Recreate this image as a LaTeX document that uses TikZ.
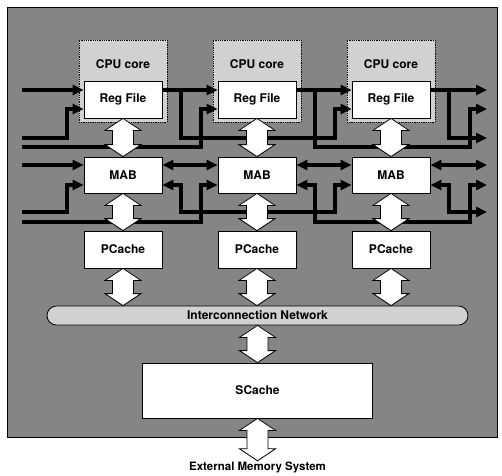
\documentclass[tikz,border=0pt]{standalone}
\usepackage{fontspec}
\setmainfont{TeX Gyre Heros}
\usetikzlibrary{arrows.meta, calc}

% white double-headed block arrow, drawn downwards from #1 to #2
\newcommand{\blockarrow}[2]{%
  \draw[blockarr] let \p1=(#1), \p2=(#2) in
    (\p1) -- ++(-18pt,-12pt) -- ++(7.5pt,0pt) -- (\x1-10.5pt,\y2+12pt)
    -- ++(-7.5pt,0pt) -- (\x1,\y2) -- ++(18pt,12pt) -- ++(-7.5pt,0pt)
    -- (\x1+10.5pt,\y1-12pt) -- ++(7.5pt,0pt) -- cycle;}

\begin{document}
\begin{tikzpicture}[x=1pt,y=-1pt,>={Triangle[length=11pt,width=10pt]}]
	\tikzstyle{lbl}=[font=\fontsize{12}{14}\selectfont\bfseries]
	\tikzstyle{box}=[lbl,draw=black,line width=0.8pt,fill=white,minimum width=78pt,minimum height=37pt]
	\tikzstyle{core}=[draw=black,densely dotted,line width=0.8pt,fill=black!18,minimum width=88pt,minimum height=82pt]
	\tikzstyle{bus}=[line width=4pt]
	\tikzstyle{blockarr}=[draw=black,line width=0.8pt,fill=white]

	\useasboundingbox (0,0) rectangle (502,475);
	\draw[line width=0.8pt,fill=black!48] (7,7) rectangle (497,437);

	% processor columns
	\node[core](core1) at (123,81) {};
	\node[core](core2) at (257,81) {};
	\node[core](core3) at (391,81) {};
	\node[lbl](cpu1) at (123,64) {CPU core};
	\node[lbl](cpu2) at (257,64) {CPU core};
	\node[lbl](cpu3) at (391,64) {CPU core};
	\node[box](rf1) at (123,99.5) {Reg File};
	\node[box](rf2) at (257,99.5) {Reg File};
	\node[box](rf3) at (391,99.5) {Reg File};
	\node[box,minimum height=36pt](mab1) at (123,175) {MAB};
	\node[box,minimum height=36pt](mab2) at (257,175) {MAB};
	\node[box,minimum height=36pt](mab3) at (391,175) {MAB};
	\node[box](pc1) at (123,249.5) {PCache};
	\node[box](pc2) at (257,249.5) {PCache};
	\node[box](pc3) at (391,249.5) {PCache};

	\node[lbl,draw=black,line width=0.8pt,fill=black!18,rounded corners=9.5pt,
		minimum width=421pt,minimum height=19pt,inner sep=0pt](net) at (257.5,315.5) {Interconnection Network};
	\node[box,minimum width=230pt,minimum height=55pt](sc) at (257.5,390.5) {SCache};
	\node[lbl,font=\fontsize{11.5}{13}\selectfont\bfseries,inner sep=1pt](ext) at (257.5,467.5) {External Memory System};

	% bus rows and levels
	\coordinate (r1) at (0,90);
	\coordinate (r2) at (0,109);
	\coordinate (la) at (0,138);
	\coordinate (lb) at (0,147);
	\coordinate (m1) at (0,165);
	\coordinate (m2) at (0,185);
	\coordinate (ma) at (0,212);
	\coordinate (mb) at (0,222);
	\coordinate (rin1) at (22,90);
	\coordinate (rin2) at (22,138);
	\coordinate (rin3) at (22,147);
	\coordinate (rout1) at (487,90);
	\coordinate (rout2) at (487,109);
	\coordinate (rout3) at (487,138);
	\coordinate (min1) at (22,165);
	\coordinate (min2) at (22,212);
	\coordinate (min3) at (22,222);
	\coordinate (mout1) at (487,165);
	\coordinate (mout2) at (487,185);
	\coordinate (mout3) at (487,212);

	% register file buses
	\draw[bus,->] (rin1) -- (rf1.west |- r1);
	\draw[bus,->] (rin2) -| ([xshift=-17pt]rf1.west |- r2) -- (rf1.west |- r2);
	\draw[bus,->] (rin3) -| ([xshift=-17pt]rf2.west |- r2) -- (rf2.west |- r2);
	\draw[bus,->] (rf1.east |- r1) -- (rf2.west |- r1);
	\draw[bus,->] (rf1.east |- r1) -- ++(19,0) |- ([xshift=-17pt]rf3.west |- la) |- (rf3.west |- r2);
	\draw[bus,->] (rf2.east |- r1) -- (rf3.west |- r1);
	\draw[bus,->] (rf2.east |- r1) -- ++(19,0) |- ([xshift=-17pt]rout2 |- lb) |- (rout2);
	\draw[bus,->] (rf3.east |- r1) -- (rout1);
	\draw[bus,->] (rf3.east |- r1) -- ++(19,0) |- (rout3);

	% MAB buses
	\draw[bus,->] (min1) -- (mab1.west |- m1);
	\draw[bus,->] (min2) -| ([xshift=-17pt]mab1.west |- m2) -- (mab1.west |- m2);
	\draw[bus,->] (min3) -| ([xshift=-17pt]mab2.west |- m2) -- (mab2.west |- m2);
	\draw[bus,<->] (mab1.east |- m1) -- (mab2.west |- m1);
	\draw[bus,<->] (mab1.east |- m2) -- ++(19,0) |- ([xshift=-17pt]mab3.west |- ma) |- (mab3.west |- m2);
	\draw[bus,<->] (mab2.east |- m1) -- (mab3.west |- m1);
	\draw[bus,<->] (mab2.east |- m2) -- ++(19,0) |- ([xshift=-17pt]mout2 |- mb) |- (mout2);
	\draw[bus,<->] (mab3.east |- m1) -- (mout1);
	\draw[bus,<->] (mab3.east |- m2) -- ++(19,0) |- (mout3);

	% vertical data paths
	\blockarrow{rf1.south}{mab1.north}
	\blockarrow{rf2.south}{mab2.north}
	\blockarrow{rf3.south}{mab3.north}
	\blockarrow{mab1.south}{pc1.north}
	\blockarrow{mab2.south}{pc2.north}
	\blockarrow{mab3.south}{pc3.north}
	\blockarrow{pc1.south}{pc1 |- net.north}
	\blockarrow{pc2.south}{pc2 |- net.north}
	\blockarrow{pc3.south}{pc3 |- net.north}
	\blockarrow{net.south}{sc.north}
	\blockarrow{sc.south}{ext.north}
\end{tikzpicture}
\end{document}
